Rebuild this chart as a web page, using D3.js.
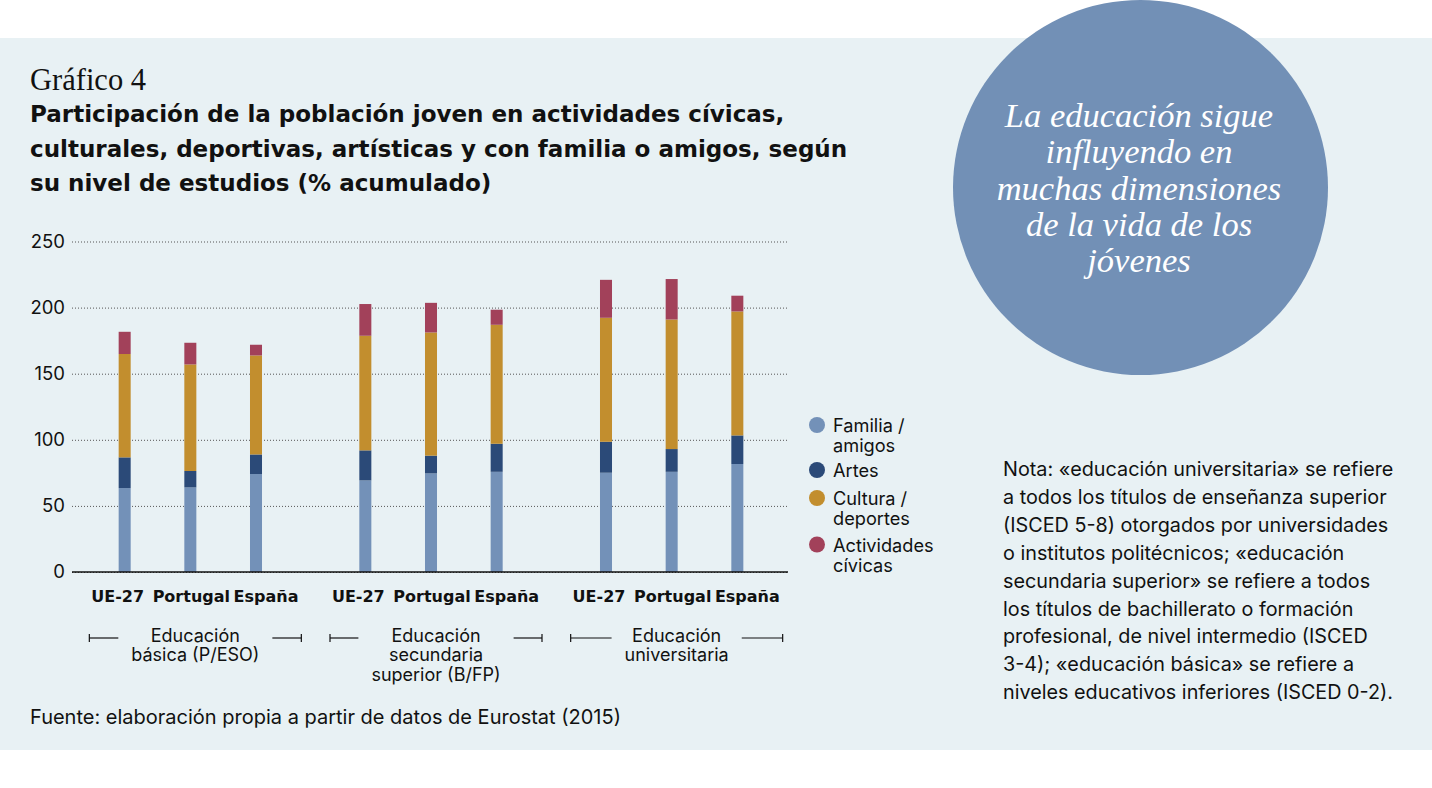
<!DOCTYPE html>
<html>
<head>
<meta charset="utf-8">
<script src="https://cdn.jsdelivr.net/npm/d3@7"></script>
<style>
  body { margin: 0; background: #fff; }
  svg { display: block; font-family: Inter, 'Noto Sans', sans-serif; }
  .tick text { fill: #111; }
</style>
</head>
<body>
<svg width="1432" height="788"></svg>
<script>
// Data (segment values, not cumulative)
const groups = ['Básica', 'Secundaria', 'Universitaria']
const groupLabels = [
  ['Educación', 'básica (P/ESO)'],
  ['Educación', 'secundaria', 'superior (B/FP)'],
  ['Educación', 'universitaria']
]
const countries = ['UE-27', 'Portugal', 'España']
const series = ['familia', 'artes', 'cultura', 'civicas']
const seriesLabels = [['Familia /', 'amigos'], ['Artes'], ['Cultura /', 'deportes'], ['Actividades', 'cívicas']]
// order: basic (UE, PT, ES), secondary (UE, PT, ES), university (UE, PT, ES)
const familia = [63.5, 64.0, 74.1, 69.3, 74.6, 75.8, 75.1, 75.8, 81.7]
const artes   = [23.2, 12.4, 14.8, 22.7, 13.4, 21.2, 23.4, 17.2, 21.6]
const cultura = [78.2, 80.6, 74.9, 86.7, 93.2, 90.0, 93.8, 98.0, 93.8]
const civicas = [16.8, 16.4,  8.1, 24.0, 22.4, 11.4, 28.7, 30.6, 11.9]
const yTicks = [0, 50, 100, 150, 200, 250]

const colors = ['#7391b8', '#2b4a78', '#c28e2e', '#a2415a']

const svg = d3.select('svg')
const width = +svg.attr('width')

// build rows for the stack
const data = []
groups.forEach((g, gi) => {
  countries.forEach((c, ci) => {
    const i = gi * countries.length + ci
    data.push({ group: g, country: c, familia: familia[i], artes: artes[i], cultura: cultura[i], civicas: civicas[i] })
  })
})

// light panel behind everything
svg.append('rect')
  .attr('x', 0).attr('y', 38)
  .attr('width', width).attr('height', 712)
  .attr('fill', '#e8f1f4')

// header
svg.append('text')
  .attr('x', 30).attr('y', 90)
  .attr('font-family', "'Liberation Serif', serif")
  .attr('font-size', 30.5)
  .attr('fill', '#111')
  .text('Gráfico 4')

const titleLines = [
  'Participación de la población joven en actividades cívicas,',
  'culturales, deportivas, artísticas y con familia o amigos, según',
  'su nivel de estudios (% acumulado)'
]
const title = svg.append('text')
  .attr('font-family', "'DejaVu Sans', sans-serif")
  .attr('font-size', 21)
  .attr('font-weight', 700)
  .attr('fill', '#111')
title.selectAll('tspan').data(titleLines)
  .enter().append('tspan')
    .attr('x', 30)
    .attr('y', (d, i) => 122 + i * 34.5)
    .text(d => d)
// stretch the font size so the first line ends where it does in the print
const firstLen = title.select('tspan').node().getComputedTextLength()
title.attr('font-size', 21 * 755 / firstLen)

// scales
const yScale = d3.scaleLinear()
  .domain([0, 250])
  .range([572, 241.5])

const xGroup = d3.scaleBand()
  .domain(groups)
  .range([70, 792])

const xInner = d3.scaleBand()
  .domain(countries)
  .range([0, xGroup.bandwidth()])
  .paddingInner(0.817)
  .paddingOuter(0.741)

// y axis with dotted gridlines
const yAxisG = svg.append('g')
  .attr('transform', 'translate(72,0)')
  .call(d3.axisLeft(yScale)
    .tickValues(yTicks)
    .tickSize(-716)
    .tickPadding(7))
yAxisG.select('.domain').remove()
yAxisG.selectAll('.tick line')
  .attr('stroke', '#555')
  .attr('stroke-dasharray', '1,2')
yAxisG.selectAll('.tick text')
  .attr('font-size', 18.5)
  .attr('font-family', 'Inter, sans-serif')

// stacked bars
const stacked = d3.stack().keys(series)(data)

const barsG = svg.append('g')
barsG.selectAll('g').data(stacked)
  .enter().append('g')
    .attr('fill', (d, i) => colors[i])
  .selectAll('rect').data(d => d)
  .enter().append('rect')
    .attr('x', d => xGroup(d.data.group) + xInner(d.data.country))
    .attr('y', d => yScale(d[1]))
    .attr('width', xInner.bandwidth())
    .attr('height', d => yScale(d[0]) - yScale(d[1]))

// baseline
svg.append('line')
  .attr('x1', 72).attr('x2', 788)
  .attr('y1', yScale(0)).attr('y2', yScale(0))
  .attr('stroke', '#111')
  .attr('stroke-width', 1.5)

// country labels: one small axis per group
// labels in the print are spread a bit wider than the bars
const labelShift = [-7, 1, 10]
groups.forEach(g => {
  const ax = svg.append('g')
    .attr('transform', `translate(${xGroup(g)},${yScale(0)})`)
    .call(d3.axisBottom(xInner).tickSize(0).tickPadding(19))
  ax.select('.domain').remove()
  ax.selectAll('.tick text')
    .attr('dx', (d, i) => labelShift[i])
    .attr('font-size', 16)
    .attr('font-weight', 700)
    .attr('font-family', "'DejaVu Sans', sans-serif")
})

// group labels with bracket lines
groups.forEach((g, gi) => {
  const cx = xGroup(g) + xGroup.bandwidth() / 2 + 5
  const half = 106
  const t = svg.append('text')
    .attr('font-size', 18)
    .attr('fill', '#111')
    .attr('text-anchor', 'middle')
  t.selectAll('tspan').data(groupLabels[gi])
    .enter().append('tspan')
      .attr('x', cx)
      .attr('y', (d, i) => 642 + i * 19.3)
      .text(d => d)
  const tw = t.node().getBBox().width
  const ly = 638
  const gap = 13
  const br = svg.append('g')
    .attr('stroke', '#111')
    .attr('stroke-width', 1.2)
  br.append('line')
    .attr('x1', cx - half).attr('x2', cx - tw / 2 - gap)
    .attr('y1', ly).attr('y2', ly)
  br.append('line')
    .attr('x1', cx - half).attr('x2', cx - half)
    .attr('y1', ly - 4).attr('y2', ly + 4)
  br.append('line')
    .attr('x1', cx + tw / 2 + gap).attr('x2', cx + half)
    .attr('y1', ly).attr('y2', ly)
  br.append('line')
    .attr('x1', cx + half).attr('x2', cx + half)
    .attr('y1', ly - 4).attr('y2', ly + 4)
})

// legend
const legendTops = [432, 477, 505, 551.5]
const legend = svg.append('g')
seriesLabels.forEach((lines, i) => {
  legend.append('circle')
    .attr('cx', 817).attr('cy', legendTops[i] - 7)
    .attr('r', 8)
    .attr('fill', colors[i])
  legend.append('text')
    .attr('font-size', 18.2)
    .attr('fill', '#111')
    .selectAll('tspan').data(lines)
    .enter().append('tspan')
      .attr('x', 833)
      .attr('y', (d, j) => legendTops[i] + j * 20)
      .text(d => d)
})

// source
svg.append('text')
  .attr('x', 30).attr('y', 724)
  .attr('font-size', 20)
  .attr('fill', '#111')
  .text('Fuente: elaboración propia a partir de datos de Eurostat (2015)')

// big circle with the quote
svg.append('circle')
  .attr('cx', 1140.5).attr('cy', 187.5)
  .attr('r', 187.5)
  .attr('fill', '#7290b6')

const quote = ['La educación sigue', 'influyendo en', 'muchas dimensiones', 'de la vida de los', 'jóvenes']
svg.append('text')
  .attr('font-family', "'Liberation Serif', serif")
  .attr('font-style', 'italic')
  .attr('font-size', 34.5)
  .attr('fill', '#fff')
  .attr('text-anchor', 'middle')
  .selectAll('tspan').data(quote)
  .enter().append('tspan')
    .attr('x', 1139)
    .attr('y', (d, i) => 127 + i * 36.3)
    .text(d => d)

// note on the right
const note = [
  'Nota: «educación universitaria» se refiere',
  'a todos los títulos de enseñanza superior',
  '(ISCED 5-8) otorgados por universidades',
  'o institutos politécnicos; «educación',
  'secundaria superior» se refiere a todos',
  'los títulos de bachillerato o formación',
  'profesional, de nivel intermedio (ISCED',
  '3-4); «educación básica» se refiere a',
  'niveles educativos inferiores (ISCED 0-2).'
]
svg.append('text')
  .attr('font-size', 19.8)
  .attr('fill', '#111')
  .selectAll('tspan').data(note)
  .enter().append('tspan')
    .attr('x', 1003)
    .attr('y', (d, i) => 476 + i * 27.9)
    .text(d => d)
</script>
</body>
</html>
